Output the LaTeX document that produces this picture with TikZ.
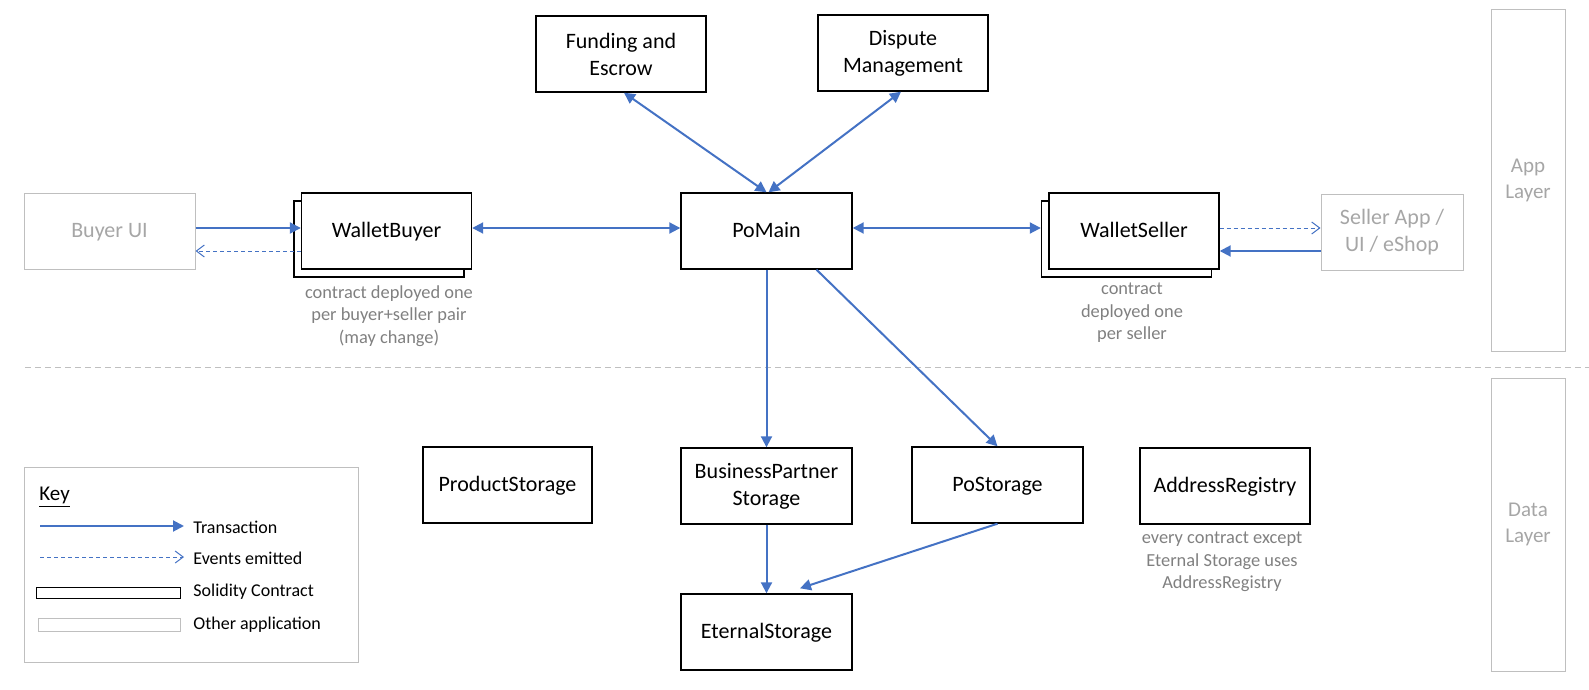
\documentclass[tikz,border=0pt]{standalone}
\usepackage{fontspec}
\setmainfont{Carlito}
\usetikzlibrary{arrows.meta,calc}
\definecolor{arrowblue}{HTML}{4472C4}
\definecolor{capgray}{HTML}{808080}
\definecolor{appgray}{HTML}{A6A6A6}
\definecolor{boxgray}{HTML}{BFBFBF}
\begin{document}
\begin{tikzpicture}[x=0.5pt,y=-0.5pt,
  mainfont/.style={font=\fontsize{11}{13.5}\selectfont},
  contract/.style={draw=black,line width=0.7pt,fill=white,minimum width=85pt,minimum height=38pt,inner sep=0pt,align=center,mainfont},
  otherapp/.style={draw=boxgray,line width=0.5pt,minimum width=85.5pt,minimum height=38pt,inner sep=0pt,align=center,text=appgray,mainfont},
  single/.style={text height=8.4pt,text depth=2pt},
  caption/.style={text=capgray,align=center,inner sep=0pt,font=\fontsize{9.2}{11.25}\selectfont},
  layerbox/.style={draw=boxgray,line width=0.5pt,minimum width=37pt,inner sep=0pt,align=center,text=appgray,font=\fontsize{10.5}{13}\selectfont},
  keytext/.style={anchor=west,inner sep=0pt,font=\fontsize{9}{11}\selectfont},
  tx/.style={draw=arrowblue,line width=1pt,-{Triangle[length=5.5pt,width=5.5pt]}},
  txboth/.style={draw=arrowblue,line width=1pt,{Triangle[length=5.5pt,width=5.5pt]}-{Triangle[length=5.5pt,width=5.5pt]}},
  ev/.style={draw=arrowblue,line width=0.5pt,dash pattern=on 2pt off 1.5pt,-{Straight Barb[length=4pt,width=6pt]}},
  sep/.style={draw=boxgray,line width=0.5pt,dash pattern=on 3pt off 2pt}
]
\useasboundingbox (0,0) rectangle (1589,690);

% top layer boxes
\node[contract] (fund) at (621,54) {Funding and\\Escrow};
\node[contract] (disp) at (903,53) {Dispute\\Management};

\node[otherapp,single] (bui) at (109.5,231) {Buyer UI};
\node[contract] (wbback) at (379,239) {};
\node[contract,single] (wb) at (386.5,231) {WalletBuyer};
\node[contract,single,minimum width=85.5pt] (pm) at (766.5,231) {PoMain};
\node[contract] (wsback) at (1126.5,239) {};
\node[contract,single] (ws) at (1134,231) {WalletSeller};
\node[otherapp,minimum width=71pt] (sa) at (1392,232) {Seller App /\\UI / eShop};

\node[caption] (wbcap) at (389,316) {contract deployed one\\per buyer+seller pair\\(may change)};
\node[caption] (wscap) at (1132,313) {contract\\deployed one\\per seller};

% data layer
\node[contract,single,minimum width=84.5pt] (prod) at (507.5,485) {ProductStorage};
\node[contract,minimum width=85.5pt] (bp) at (766.5,486) {BusinessPartner\\Storage};
\node[contract,single,minimum width=85.5pt] (ps) at (997.5,485) {PoStorage};
\node[contract,single] (ar) at (1225,486) {AddressRegistry};
\node[caption] (arcap) at (1222,562) {every contract except\\Eternal Storage uses\\AddressRegistry};
\node[contract,single,minimum width=85.5pt] (es) at (766.5,632) {EternalStorage};

% layer labels
\node[layerbox,minimum height=170.5pt] (app) at (1528,180.5) {App\\Layer};
\node[layerbox,minimum height=146.5pt] (data) at (1528,524.5) {Data\\Layer};

% separator
\coordinate (sepL) at (25,367);
\coordinate (sepR) at (1589,367);
\draw[sep] (sepL) -- (sepR);

% connectors
\draw[tx] ([yshift=1.5pt]bui.east) -- ([yshift=1.5pt]wb.west);
\draw[ev] ([yshift=-10pt]wb.west) -- ([yshift=-10pt]bui.east);
\draw[txboth] ([yshift=1.5pt]wb.east) -- ([yshift=1.5pt]pm.west);
\draw[txboth] ([yshift=1.5pt]pm.east) -- ([yshift=5.5pt]wsback.west);
\draw[ev] ([yshift=1.5pt]ws.east) -- ([yshift=2pt]sa.west);
\draw[tx] ([yshift=-9.5pt]sa.west) -- ([yshift=-10pt]ws.east);
\draw[txboth] (pm.north) -- ([xshift=1.5pt]fund.south);
\draw[txboth] ([xshift=1pt]pm.north) -- ([xshift=-1pt]disp.south);
\draw[tx] (pm.south) -- (bp.north);
\draw[tx] ([xshift=25pt]pm.south) -- (ps.north);
\draw[tx] (bp.south) -- (es.north);
\draw[tx] (ps.south) -- ([xshift=16.75pt,yshift=2.5pt]es.north);

% key
\node[draw=boxgray,line width=0.5pt,minimum width=167pt,minimum height=97.5pt,inner sep=0pt] (key) at (191,564.5) {};
\node[keytext,font=\fontsize{10.5}{12}\selectfont] (keyt) at (39,497) {\underline{Key}};
\coordinate (k1a) at (40,526); \coordinate (k1b) at (184,526);
\draw[tx] (k1a) -- (k1b);
\node[keytext] (kt1) at (193,527) {Transaction};
\coordinate (k2a) at (40,557); \coordinate (k2b) at (184,557);
\draw[ev] (k2a) -- (k2b);
\node[keytext] (kt2) at (193,558) {Events emitted};
\node[draw=black,line width=0.5pt,minimum width=72pt,minimum height=5.5pt,inner sep=0pt] (k3) at (108,592.5) {};
\node[keytext] (kt3) at (193,592) {Solidity Contract};
\node[draw=boxgray,line width=0.5pt,minimum width=71pt,minimum height=6.5pt,inner sep=0pt] (k4) at (109,624.5) {};
\node[keytext] (kt4) at (193,625) {Other application};
\end{tikzpicture}
\end{document}
